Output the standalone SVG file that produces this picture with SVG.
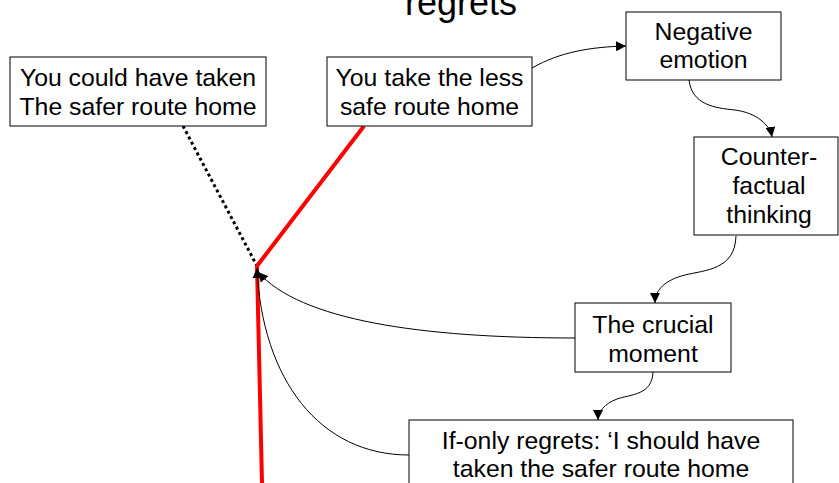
<svg xmlns="http://www.w3.org/2000/svg" width="839" height="483" viewBox="0 0 839 483">
<style>
.box{fill:#fff;stroke:#000;stroke-width:1}
.t{font-family:"Liberation Sans",Arial,sans-serif;font-size:24.8px;fill:#000;text-anchor:middle}
.c{fill:none;stroke:#000;stroke-width:1}
</style>
<defs>
<marker id="ah" viewBox="0 0 10 10" refX="10" refY="5" markerWidth="10" markerHeight="10" markerUnits="userSpaceOnUse" orient="auto">
<path d="M0,0 L10,5 L0,10 z" fill="#000"/>
</marker>
</defs>
<rect width="839" height="483" fill="#fff"/>
<text class="t" x="461" y="15" style="font-size:36px">regrets</text>
<g id="connectors">
<line x1="183" y1="126" x2="257" y2="266" stroke="#000" stroke-width="3" stroke-dasharray="3 3"/>
<polyline points="364,126 257,266 262,483" fill="none" stroke="#f00" stroke-width="4" stroke-linejoin="miter"/>
<path class="c" d="M575,338 C420,338 300,320 258,272" marker-end="url(#ah)"/>
<path class="c" d="M409,455 C320,455 262,380 257,268" marker-end="url(#ah)"/>
<path class="c" d="M532,68 C560,52 590,47 626,46" marker-end="url(#ah)"/>
<path class="c" d="M689,80 C692,105 715,108 735,110 C757,113 770,125 772,137" marker-end="url(#ah)"/>
<path class="c" d="M736,236 C735,270 705,270 685,275 C665,280 655,290 655,303" marker-end="url(#ah)"/>
<path class="c" d="M653,372 C652,395 632,394 617,399 C604,404 598,412 598,420" marker-end="url(#ah)"/>
</g>
<g id="node-safer">
<rect class="box" x="10" y="57" width="256" height="69"/>
<text class="t" x="138" y="86">You could have taken</text>
<text class="t" x="138" y="115">The safer route home</text>
</g>
<g id="node-less-safe">
<rect class="box" x="327" y="57" width="205" height="69"/>
<text class="t" x="429.5" y="86">You take the less</text>
<text class="t" x="429.5" y="115">safe route home</text>
</g>
<g id="node-negative">
<rect class="box" x="626" y="12" width="155" height="68"/>
<text class="t" x="703.5" y="40">Negative</text>
<text class="t" x="703.5" y="68">emotion</text>
</g>
<g id="node-counterfactual">
<rect class="box" x="694" y="137" width="144" height="98"/>
<text class="t" x="769" y="165">Counter-</text>
<text class="t" x="769" y="194">factual</text>
<text class="t" x="769" y="223">thinking</text>
</g>
<g id="node-crucial">
<rect class="box" x="575" y="303" width="156" height="69"/>
<text class="t" x="653" y="333">The crucial</text>
<text class="t" x="653" y="362">moment</text>
</g>
<g id="node-ifonly">
<rect class="box" x="409" y="420" width="384" height="80"/>
<text class="t" x="601" y="449">If-only regrets: ‘I should have</text>
<text class="t" x="601" y="477">taken the safer route home</text>
</g>
</svg>
